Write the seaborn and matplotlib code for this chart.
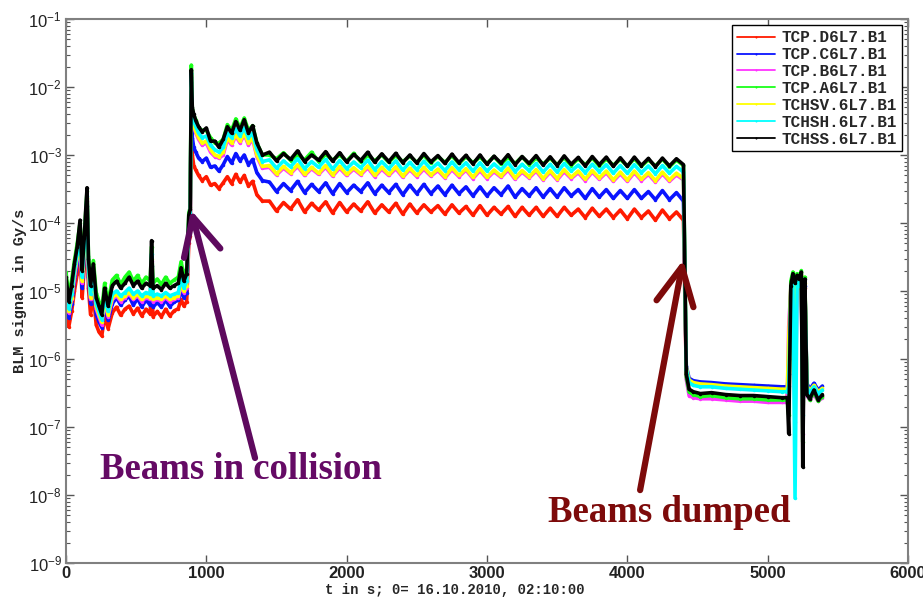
import numpy as np
import pandas as pd
import matplotlib
matplotlib.use("Agg")
import matplotlib.pyplot as plt
import seaborn as sns
from matplotlib.ticker import LogLocator, NullLocator

### Data (t in s, BLM signal in Gy/s)
# early part (0-885 s)
t_early = [0, 20, 40, 60, 80, 100, 115, 130, 140, 150, 160, 175, 195, 215, 235, 255, 275, 300, 330, 360,
           390, 420, 450, 480, 510, 540, 570, 600, 610, 620, 650, 680, 710, 740, 770, 800, 820, 840, 860, 875, 885]
# injection peak and bump (893-1400 s)
t_peak = [893, 900, 910, 925, 945, 970, 1000, 1030, 1060, 1090,
          1120, 1150, 1180, 1210, 1240, 1270, 1300, 1330, 1360, 1400]
# plateau in collision (1450-4400 s)
t_flat = [1450, 1500, 1550, 1600, 1650, 1700, 1750, 1800, 1850, 1900,
          1950, 2000, 2050, 2100, 2150, 2200, 2250, 2300, 2350, 2400,
          2450, 2500, 2550, 2600, 2650, 2700, 2750, 2800, 2850, 2900,
          2950, 3000, 3050, 3100, 3150, 3200, 3250, 3300, 3350, 3400,
          3450, 3500, 3550, 3600, 3650, 3700, 3750, 3800, 3850, 3900,
          3950, 4000, 4050, 4100, 4150, 4200, 4250, 4300, 4350, 4400]
# after the dump (4420-5390 s)
t_dump = [4420, 4440, 4470, 4520, 4600, 4700, 4800, 4900, 5000, 5100,
          5140, 5150, 5165, 5180, 5195, 5210, 5225, 5240, 5250, 5265,
          5280, 5300, 5330, 5360, 5390]
t_s = t_early + t_peak + t_flat + t_dump

tcp_d6 = [6.5e-6, 3e-6, 5e-6, 1.0e-5, 1.8e-5, 4e-5, 8e-6, 2.2e-5, 5e-5, 1.2e-4,
          1.1e-5, 4.5e-6, 9e-6, 3.2e-6, 2.5e-6, 2.2e-6, 4.2e-6, 2.8e-6, 4.8e-6, 5.8e-6,
          4.4e-6, 5.4e-6, 6.0e-6, 4.6e-6, 5.6e-6, 4.3e-6, 5.4e-6, 4.6e-6, 1.6e-5, 4.2e-6,
          5.0e-6, 4.2e-6, 5.4e-6, 4.3e-6, 5.1e-6, 5.5e-6, 7.5e-6, 6e-6, 7e-6, 5e-5, 6.5e-5,
          9e-3, 1.0e-3, 7e-4, 6e-4, 5e-4, 4.2e-4, 4.8e-4, 3.6e-4, 3.8e-4, 3.2e-4,
          3.9e-4, 4.8e-4, 3.8e-4, 5.2e-4, 4.0e-4, 5.0e-4, 3.5e-4, 4.1e-4, 2.6e-4, 2.1e-4,
          2.1e-4, 1.5e-4, 2.0e-4, 1.6e-4, 2.2e-4, 1.45e-4, 1.95e-4, 1.55e-4, 2.05e-4, 1.4e-4,
          2.0e-4, 1.45e-4, 1.9e-4, 1.5e-4, 2.05e-4, 1.4e-4, 1.85e-4, 1.45e-4, 1.95e-4, 1.35e-4,
          1.9e-4, 1.4e-4, 1.85e-4, 1.45e-4, 1.8e-4, 1.35e-4, 1.85e-4, 1.4e-4, 1.75e-4, 1.3e-4,
          1.8e-4, 1.3e-4, 1.7e-4, 1.35e-4, 1.75e-4, 1.25e-4, 1.7e-4, 1.3e-4, 1.7e-4, 1.25e-4,
          1.65e-4, 1.25e-4, 1.7e-4, 1.3e-4, 1.6e-4, 1.2e-4, 1.65e-4, 1.25e-4, 1.6e-4, 1.2e-4,
          1.55e-4, 1.15e-4, 1.6e-4, 1.2e-4, 1.5e-4, 1.1e-4, 1.55e-4, 1.15e-4, 1.45e-4, 1.1e-4,
          6e-7, 3.4e-7, 3.2e-7, 3.0e-7, 3.0e-7, 2.9e-7, 2.8e-7, 2.8e-7, 2.7e-7, 2.6e-7,
          2.6e-7, 1e-6, 9e-6, 1.3e-5, 2e-6, 1.2e-5, 1.1e-5, 1.4e-5, 3e-7, 1.1e-5,
          3.0e-7, 2.6e-7, 3.2e-7, 2.5e-7, 2.9e-7]

tcp_c6 = [9e-6, 4e-6, 6.5e-6, 1.4e-5, 2.6e-5, 6e-5, 1.1e-5, 3.2e-5, 7.5e-5, 1.8e-4,
          1.6e-5, 6.5e-6, 1.4e-5, 4.5e-6, 3.5e-6, 2.9e-6, 6e-6, 3.7e-6, 6.5e-6, 8e-6,
          6.2e-6, 7.4e-6, 8.4e-6, 6.2e-6, 7.8e-6, 5.8e-6, 7.4e-6, 6.2e-6, 2.3e-5, 5.8e-6,
          6.8e-6, 5.8e-6, 7.4e-6, 5.9e-6, 6.9e-6, 7.3e-6, 1.0e-5, 8e-6, 9.5e-6, 7e-5, 9e-5,
          1.2e-2, 1.8e-3, 1.3e-3, 1.1e-3, 9e-4, 8e-4, 9e-4, 6.6e-4, 6.9e-4, 5.8e-4,
          7.2e-4, 9.5e-4, 7.6e-4, 1.05e-3, 8.2e-4, 1.0e-3, 7.2e-4, 8.6e-4, 5.5e-4, 4.2e-4,
          4.0e-4, 2.9e-4, 3.8e-4, 3.0e-4, 4.1e-4, 2.8e-4, 3.7e-4, 2.9e-4, 3.9e-4, 2.7e-4,
          3.8e-4, 2.8e-4, 3.6e-4, 2.9e-4, 3.9e-4, 2.7e-4, 3.6e-4, 2.8e-4, 3.7e-4, 2.6e-4,
          3.6e-4, 2.7e-4, 3.7e-4, 2.7e-4, 3.5e-4, 2.6e-4, 3.6e-4, 2.7e-4, 3.4e-4, 2.5e-4,
          3.4e-4, 2.5e-4, 3.3e-4, 2.6e-4, 3.5e-4, 2.4e-4, 3.2e-4, 2.5e-4, 3.3e-4, 2.4e-4,
          3.2e-4, 2.4e-4, 3.3e-4, 2.5e-4, 3.1e-4, 2.3e-4, 3.2e-4, 2.4e-4, 3.1e-4, 2.3e-4,
          3.0e-4, 2.3e-4, 3.1e-4, 2.3e-4, 2.9e-4, 2.2e-4, 3.0e-4, 2.2e-4, 2.8e-4, 2.1e-4,
          8e-7, 5.2e-7, 4.8e-7, 4.6e-7, 4.5e-7, 4.3e-7, 4.2e-7, 4.1e-7, 4.0e-7, 3.9e-7,
          3.9e-7, 6e-7, 1.0e-5, 1.5e-5, 8e-6, 1.4e-5, 1.2e-5, 1.5e-5, 4e-7, 1.2e-5,
          4.3e-7, 3.6e-7, 4.4e-7, 3.5e-7, 4.0e-7]

tcp_b6 = [1.0e-5, 4.8e-6, 7.5e-6, 1.6e-5, 3e-5, 7e-5, 1.3e-5, 3.8e-5, 9e-5, 2.1e-4,
          1.9e-5, 7.5e-6, 1.6e-5, 5.5e-6, 4.2e-6, 3.2e-6, 7e-6, 4.2e-6, 7.5e-6, 8.5e-6,
          7e-6, 8e-6, 9e-6, 7.5e-6, 8.5e-6, 7e-6, 8e-6, 7.5e-6, 2.8e-5, 7e-6,
          7.5e-6, 7e-6, 8e-6, 7e-6, 7.5e-6, 8e-6, 1.2e-5, 9.5e-6, 1.1e-5, 8.5e-5, 1.1e-4,
          1.4e-2, 3.3e-3, 2.6e-3, 2.1e-3, 1.7e-3, 1.4e-3, 1.5e-3, 1.1e-3, 9.5e-4, 9e-4,
          1.0e-3, 1.7e-3, 1.4e-3, 1.9e-3, 1.5e-3, 2.0e-3, 1.4e-3, 1.7e-3, 9.5e-4, 6.4e-4,
          6.6e-4, 5.1e-4, 6.4e-4, 5.3e-4, 6.8e-4, 5.0e-4, 6.3e-4, 5.2e-4, 6.6e-4, 4.9e-4,
          6.4e-4, 5.0e-4, 6.2e-4, 5.1e-4, 6.5e-4, 4.8e-4, 6.2e-4, 5.0e-4, 6.3e-4, 4.7e-4,
          6.1e-4, 4.8e-4, 6.2e-4, 4.9e-4, 5.9e-4, 4.6e-4, 6.1e-4, 4.8e-4, 6.0e-4, 4.5e-4,
          5.9e-4, 4.5e-4, 5.7e-4, 4.7e-4, 6.0e-4, 4.4e-4, 5.6e-4, 4.6e-4, 5.8e-4, 4.3e-4,
          5.6e-4, 4.3e-4, 5.7e-4, 4.5e-4, 5.5e-4, 4.2e-4, 5.6e-4, 4.4e-4, 5.5e-4, 4.1e-4,
          5.3e-4, 4.1e-4, 5.5e-4, 4.2e-4, 5.2e-4, 4.0e-4, 5.3e-4, 4.1e-4, 5.1e-4, 4.3e-4,
          5e-7, 2.9e-7, 2.7e-7, 2.6e-7, 2.6e-7, 2.5e-7, 2.4e-7, 2.4e-7, 2.3e-7, 2.3e-7,
          2.3e-7, 3e-6, 1.1e-5, 1.5e-5, 1.2e-7, 1.4e-5, 1.2e-5, 1.6e-5, 8e-8, 1.2e-5,
          2.9e-7, 2.5e-7, 3.0e-7, 2.4e-7, 2.7e-7]

tcp_a6 = [1.9e-5, 8.5e-6, 1.45e-5, 2.8e-5, 5.0e-5, 1.0e-4, 2.3e-5, 6.5e-5, 1.4e-4, 3.0e-4,
          3.3e-5, 1.45e-5, 2.8e-5, 9.5e-6, 7e-6, 5.2e-6, 1.3e-5, 7e-6, 1.45e-5, 1.7e-5,
          1.25e-5, 1.6e-5, 1.9e-5, 1.4e-5, 1.7e-5, 1.3e-5, 1.6e-5, 1.4e-5, 4.5e-5, 1.3e-5,
          1.5e-5, 1.25e-5, 1.6e-5, 1.3e-5, 1.45e-5, 1.6e-5, 2.7e-5, 1.7e-5, 2.1e-5, 1.4e-4, 1.7e-4,
          2.1e-2, 4.8e-3, 3.8e-3, 3.3e-3, 2.5e-3, 2.3e-3, 2.3e-3, 1.8e-3, 1.5e-3, 1.5e-3,
          1.7e-3, 2.8e-3, 2.3e-3, 3.4e-3, 2.5e-3, 3.5e-3, 2.3e-3, 2.7e-3, 1.5e-3, 1.0e-3,
          1.0e-3, 8.8e-4, 1.08e-3, 8.3e-4, 1.0e-3, 8.5e-4, 1.1e-3, 8.0e-4, 1.02e-3, 8.4e-4,
          1.0e-3, 8.1e-4, 1.06e-3, 7.9e-4, 9.9e-4, 8.2e-4, 1.0e-3, 7.8e-4, 9.8e-4, 8.0e-4,
          9.6e-4, 7.8e-4, 9.9e-4, 7.6e-4, 9.5e-4, 7.8e-4, 9.7e-4, 7.5e-4, 9.4e-4, 7.7e-4,
          9.3e-4, 7.5e-4, 9.5e-4, 7.3e-4, 9.2e-4, 7.5e-4, 9.4e-4, 7.2e-4, 9.0e-4, 7.4e-4,
          8.9e-4, 7.2e-4, 9.1e-4, 7.0e-4, 8.8e-4, 7.2e-4, 9.0e-4, 6.9e-4, 8.7e-4, 7.1e-4,
          8.6e-4, 6.9e-4, 8.8e-4, 6.8e-4, 8.5e-4, 6.9e-4, 8.7e-4, 6.7e-4, 8.4e-4, 7.0e-4,
          5.5e-7, 3.3e-7, 3.0e-7, 2.8e-7, 2.9e-7, 2.7e-7, 2.6e-7, 2.6e-7, 2.5e-7, 2.5e-7,
          2.5e-7, 1.5e-7, 1.4e-5, 1.9e-5, 1.5e-5, 1.8e-5, 1.6e-5, 2.0e-5, 6e-8, 1.6e-5,
          3.2e-7, 2.5e-7, 3.3e-7, 2.4e-7, 2.8e-7]

tchsv = [1.1e-5, 5e-6, 8e-6, 1.8e-5, 3.2e-5, 7.5e-5, 1.4e-5, 4e-5, 1.0e-4, 2.3e-4,
         2.0e-5, 8e-6, 1.7e-5, 6e-6, 4.5e-6, 3.5e-6, 7.5e-6, 4.5e-6, 8e-6, 9e-6,
         7.5e-6, 8.5e-6, 9.5e-6, 8e-6, 9e-6, 7.5e-6, 8.5e-6, 8e-6, 3e-5, 7.5e-6,
         8e-6, 7.5e-6, 8.5e-6, 7.5e-6, 8e-6, 8.5e-6, 1.3e-5, 1.0e-5, 1.2e-5, 9e-5, 1.2e-4,
         1.5e-2, 3.5e-3, 2.8e-3, 2.2e-3, 1.8e-3, 1.5e-3, 1.6e-3, 1.2e-3, 1.0e-3, 9.5e-4,
         1.1e-3, 1.8e-3, 1.5e-3, 2.0e-3, 1.6e-3, 2.1e-3, 1.5e-3, 1.8e-3, 1.0e-3, 6.8e-4,
         7.0e-4, 5.3e-4, 6.8e-4, 5.5e-4, 7.2e-4, 5.2e-4, 6.6e-4, 5.4e-4, 7.0e-4, 5.1e-4,
         6.8e-4, 5.2e-4, 6.5e-4, 5.3e-4, 6.9e-4, 5.0e-4, 6.6e-4, 5.2e-4, 6.7e-4, 4.9e-4,
         6.4e-4, 5.0e-4, 6.6e-4, 5.1e-4, 6.2e-4, 4.8e-4, 6.5e-4, 5.0e-4, 6.3e-4, 4.7e-4,
         6.3e-4, 4.7e-4, 6.0e-4, 4.9e-4, 6.4e-4, 4.6e-4, 5.9e-4, 4.8e-4, 6.1e-4, 4.5e-4,
         5.9e-4, 4.5e-4, 6.1e-4, 4.7e-4, 5.8e-4, 4.4e-4, 5.9e-4, 4.6e-4, 5.8e-4, 4.3e-4,
         5.6e-4, 4.3e-4, 5.8e-4, 4.4e-4, 5.5e-4, 4.2e-4, 5.6e-4, 4.3e-4, 5.4e-4, 4.5e-4,
         7.5e-7, 4.9e-7, 4.5e-7, 4.3e-7, 4.2e-7, 4.0e-7, 3.9e-7, 3.8e-7, 3.7e-7, 3.6e-7,
         3.6e-7, 2e-6, 1.1e-5, 1.6e-5, 5e-6, 1.5e-5, 1.3e-5, 1.7e-5, 3e-7, 1.3e-5,
         4.0e-7, 3.4e-7, 4.1e-7, 3.3e-7, 3.7e-7]

tchsh = [1.2e-5, 5.5e-6, 9e-6, 2.0e-5, 3.5e-5, 8e-5, 1.6e-5, 4.5e-5, 1.1e-4, 2.5e-4,
         2.3e-5, 9e-6, 1.9e-5, 6.5e-6, 5e-6, 3.8e-6, 8.5e-6, 5e-6, 9e-6, 1.0e-5,
         8.5e-6, 9.5e-6, 1.1e-5, 9e-6, 1.0e-5, 8.5e-6, 9.5e-6, 9e-6, 3.5e-5, 8.5e-6,
         9e-6, 8.5e-6, 9.5e-6, 8.5e-6, 9e-6, 9.5e-6, 1.5e-5, 1.1e-5, 1.4e-5, 1.0e-4, 1.3e-4,
         1.6e-2, 4.0e-3, 3.2e-3, 2.6e-3, 2.1e-3, 1.8e-3, 1.9e-3, 1.4e-3, 1.2e-3, 1.1e-3,
         1.3e-3, 2.1e-3, 1.8e-3, 2.4e-3, 1.9e-3, 2.5e-3, 1.8e-3, 2.1e-3, 1.2e-3, 8.0e-4,
         8.5e-4, 6.4e-4, 8.2e-4, 6.7e-4, 8.8e-4, 6.3e-4, 8.0e-4, 6.6e-4, 8.6e-4, 6.2e-4,
         8.3e-4, 6.3e-4, 7.9e-4, 6.5e-4, 8.4e-4, 6.1e-4, 8.0e-4, 6.3e-4, 8.2e-4, 6.0e-4,
         7.8e-4, 6.1e-4, 8.1e-4, 6.2e-4, 7.6e-4, 5.9e-4, 7.9e-4, 6.1e-4, 7.7e-4, 5.8e-4,
         7.7e-4, 5.8e-4, 7.4e-4, 6.0e-4, 7.8e-4, 5.7e-4, 7.3e-4, 5.9e-4, 7.5e-4, 5.6e-4,
         7.3e-4, 5.6e-4, 7.5e-4, 5.8e-4, 7.1e-4, 5.5e-4, 7.3e-4, 5.7e-4, 7.2e-4, 5.4e-4,
         7.0e-4, 5.4e-4, 7.2e-4, 5.5e-4, 6.9e-4, 5.3e-4, 7.0e-4, 5.4e-4, 6.8e-4, 5.6e-4,
         7e-7, 4.5e-7, 4.1e-7, 3.9e-7, 3.9e-7, 3.7e-7, 3.6e-7, 3.5e-7, 3.4e-7, 3.3e-7,
         3.3e-7, 4e-7, 1.0e-5, 1.5e-5, 9e-9, 1.4e-5, 1.2e-5, 1.6e-5, 1.5e-7, 1.2e-5,
         3.8e-7, 3.2e-7, 3.9e-7, 3.1e-7, 3.5e-7]

tchss = [1.6e-5, 7e-6, 1.2e-5, 2.5e-5, 4.5e-5, 1.1e-4, 2.0e-5, 6e-5, 1.5e-4, 3.3e-4,
         3.0e-5, 1.2e-5, 2.5e-5, 8e-6, 6e-6, 4.5e-6, 1.1e-5, 6e-6, 1.2e-5, 1.4e-5,
         1.1e-5, 1.3e-5, 1.6e-5, 1.2e-5, 1.4e-5, 1.1e-5, 1.3e-5, 1.2e-5, 5.5e-5, 1.1e-5,
         1.2e-5, 1.05e-5, 1.3e-5, 1.1e-5, 1.2e-5, 1.3e-5, 2.2e-5, 1.4e-5, 1.8e-5, 1.3e-4, 1.6e-4,
         1.8e-2, 5e-3, 4e-3, 3.2e-3, 2.6e-3, 2.2e-3, 2.5e-3, 1.6e-3, 1.6e-3, 1.3e-3,
         1.7e-3, 2.6e-3, 2.1e-3, 3.1e-3, 2.3e-3, 3.3e-3, 2.1e-3, 2.7e-3, 1.5e-3, 1.0e-3,
         1.1e-3, 8.2e-4, 1.05e-3, 8.6e-4, 1.15e-3, 8.0e-4, 1.0e-3, 8.4e-4, 1.12e-3, 8.1e-4,
         1.08e-3, 7.9e-4, 1.02e-3, 8.3e-4, 1.1e-3, 7.8e-4, 1.04e-3, 8.0e-4, 1.06e-3, 7.7e-4,
         1.0e-3, 7.6e-4, 1.05e-3, 7.9e-4, 9.8e-4, 7.5e-4, 1.03e-3, 7.7e-4, 9.9e-4, 7.4e-4,
         1.0e-3, 7.3e-4, 9.6e-4, 7.6e-4, 1.01e-3, 7.2e-4, 9.5e-4, 7.5e-4, 9.8e-4, 7.1e-4,
         9.4e-4, 7.0e-4, 9.7e-4, 7.3e-4, 9.2e-4, 6.9e-4, 9.5e-4, 7.2e-4, 9.3e-4, 6.8e-4,
         9.1e-4, 6.8e-4, 9.3e-4, 7.0e-4, 8.9e-4, 6.7e-4, 9.0e-4, 6.9e-4, 8.8e-4, 7.2e-4,
         6e-7, 3.6e-7, 3.3e-7, 3.1e-7, 3.2e-7, 3.0e-7, 2.9e-7, 2.9e-7, 2.8e-7, 2.7e-7,
         2.7e-7, 8e-8, 1.2e-5, 1.8e-5, 1.3e-5, 1.7e-5, 1.5e-5, 1.9e-5, 2.6e-8, 1.5e-5,
         3e-7, 2.6e-7, 3.5e-7, 2.5e-7, 3.0e-7]

names = ['TCP.D6L7.B1', 'TCP.C6L7.B1', 'TCP.B6L7.B1', 'TCP.A6L7.B1',
         'TCHSV.6L7.B1', 'TCHSH.6L7.B1', 'TCHSS.6L7.B1']
colors = ['#ff1a00', '#0a14ff', '#ff33ff', '#1aff1a', '#ffff00', '#00ffff', '#000000']

### Long table for seaborn
frames = []
for name, vals in zip(names, [tcp_d6, tcp_c6, tcp_b6, tcp_a6, tchsv, tchsh, tchss]):
    assert len(vals) == len(t_s), name
    frames.append(pd.DataFrame({'t': t_s, 'signal': vals, 'detector': name}))
df = pd.concat(frames, ignore_index=True)

### Style
sns.set_style('ticks')
plt.rcParams['font.family'] = ['Liberation Sans', 'DejaVu Sans']
plt.rcParams['mathtext.fontset'] = 'custom'
plt.rcParams['mathtext.rm'] = 'Liberation Sans:bold'
plt.rcParams['mathtext.it'] = 'Liberation Sans:bold'
plt.rcParams['mathtext.bf'] = 'Liberation Sans:bold'

fig = plt.figure(figsize=(9.23, 5.97), dpi=100)
ax = fig.add_axes([66/923, 34/597, 842/923, 544/597])

# thick lines + dots stand in for the noisy bands of the original
sns.lineplot(data=df, x='t', y='signal', hue='detector', hue_order=names,
             palette=colors, estimator=None, sort=False, lw=2.6,
             marker='.', markersize=5, markeredgewidth=0, ax=ax)

ax.set_yscale('log')
ax.set_xlim(0, 6000)
ax.set_ylim(1e-9, 1e-1)
ax.set_xticks(range(0, 6001, 1000))
ax.yaxis.set_major_locator(LogLocator(base=10, numticks=20))
ax.yaxis.set_minor_locator(LogLocator(base=10, subs=np.arange(2, 10), numticks=200))
ax.xaxis.set_minor_locator(NullLocator())
ax.tick_params(which='both', direction='in', top=True, right=True, colors='#555555',
               labelcolor='#222222', labelsize=12, pad=3)
ax.tick_params(which='major', length=6, width=1)
ax.tick_params(which='minor', length=3, width=0.8)
ax.tick_params(axis='x', pad=2)
for lab in ax.get_xticklabels():
    lab.set_fontweight('bold')
for sp in ax.spines.values():
    sp.set_color('#808080')
    sp.set_linewidth(1.5)

mono = {'family': 'Liberation Mono', 'weight': 'bold'}
ax.set_xlabel('t in s; 0= 16.10.2010, 02:10:00', fontdict=dict(mono, size=10))
ax.xaxis.set_label_coords(0.462, -0.036)
ax.set_ylabel('BLM signal in Gy/s', fontdict=dict(mono, size=11), labelpad=1)

sns.move_legend(ax, 'upper right', title=None, frameon=True, fancybox=False,
                edgecolor='black', framealpha=1, prop=dict(mono, size=11.5),
                labelspacing=0.12, handlelength=2.4, handletextpad=0.4,
                borderpad=0.3, borderaxespad=0.4)
leg = ax.get_legend()
leg.get_frame().set_linewidth(1.0)
for h in leg.get_lines():
    h.set_linewidth(1.3)
    h.set_markersize(3)

### Annotations
ax.annotate('', xy=(891, 1.55e-4), xytext=(1347, 3.5e-8),
            arrowprops=dict(arrowstyle='->,head_length=0.9,head_width=0.45', color='#5e0a5e',
                            lw=4.5, shrinkA=0, shrinkB=0, mutation_scale=30), zorder=10)
ax.text(242, 1.72e-8, 'Beams in collision', color='#650a65', fontsize=26.5,
        family='Liberation Serif', weight='bold', va='baseline', ha='left')

ax.annotate('', xy=(4398, 2.86e-5), xytext=(4091, 1.18e-8),
            arrowprops=dict(arrowstyle='->,head_length=0.9,head_width=0.45', color='#7d0a0a',
                            lw=4.5, shrinkA=0, shrinkB=0, mutation_scale=30), zorder=10)
ax.text(3435, 4e-9, 'Beams dumped', color='#7d0a0a', fontsize=26.5,
        family='Liberation Serif', weight='bold', va='baseline', ha='left')

fig.savefig('out.png', dpi=100)
